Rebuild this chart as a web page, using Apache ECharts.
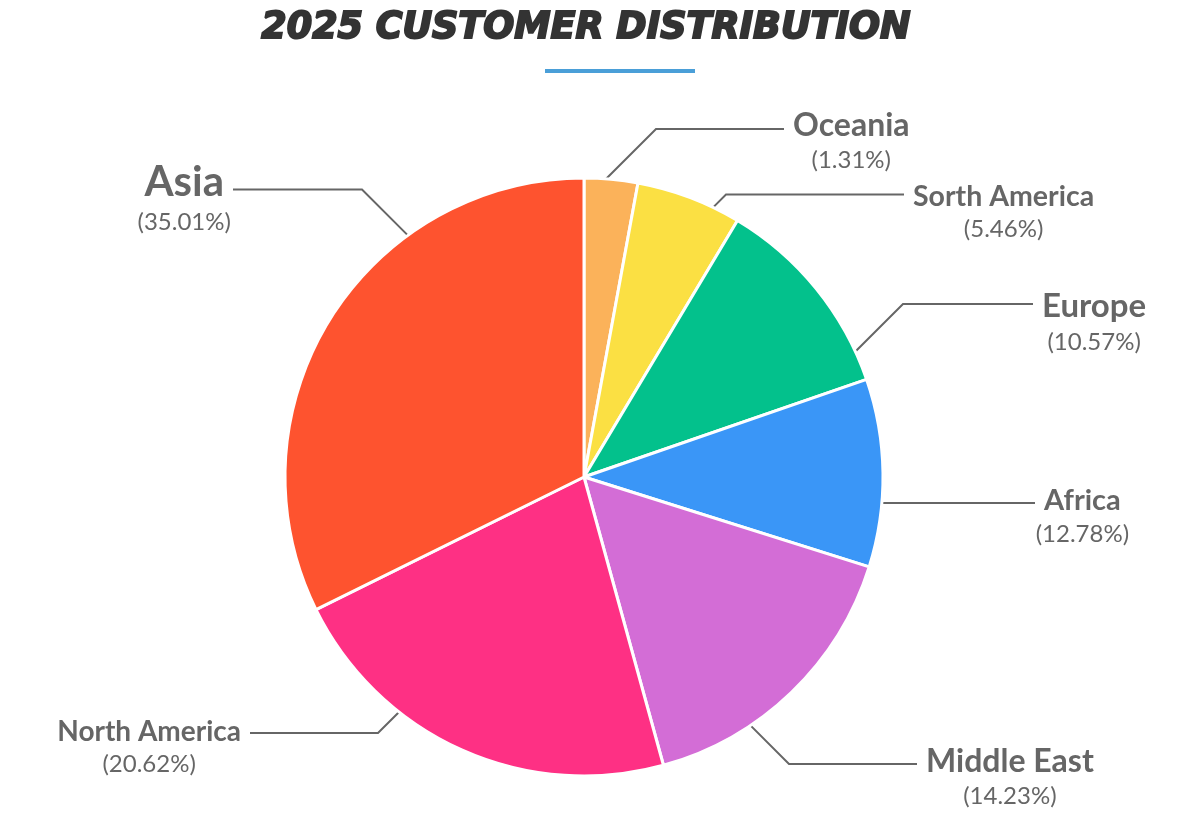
<!DOCTYPE html>
<html><head><meta charset="utf-8">
<script src="https://cdn.jsdelivr.net/npm/echarts@6/dist/echarts.min.js"></script>
<style>html,body{margin:0;padding:0;background:#fff}#c{width:1200px;height:820px}</style>
</head><body><div id="c"></div>
<script>
// ---- data ----
const categories = ['Oceania', 'Sorth America', 'Europe', 'Africa', 'Middle East', 'North America', 'Asia'];
const sliceValues = [2.89, 5.69, 11.13, 10.15, 15.86, 21.97, 32.31];
const shareLabels = ['1.31', '5.46', '10.57', '12.78', '14.23', '20.62', '35.01'];

// ---- style / layout ----
const colors = ['#FBB25A', '#FBE043', '#03C18C', '#3A96F7', '#D36DD6', '#FE3084', '#FE532F'];
const nameSizes = [32, 28.5, 33, 29, 32, 28, 42];
const lineY = [129, 194.5, 304, 503, 764, 733, 189.5];
const lineEndX = [784, 904, 1033, 1035, 917, 250, 233];
const nameMidY = [126.5, 197.5, 307.5, 502, 762.5, 732.5, 183.5];
const hLen = [128, 178, 130, 200, 128, 128, 129];
const CX = 584, CY = 477, R = 299;

const mctx = document.createElement('canvas').getContext('2d');
function textW(s, fs) { mctx.font = '700 ' + fs + 'px Lato'; return mctx.measureText(s).width; }

const rich = { p: { fontFamily: 'Lato', fontSize: 24, fontWeight: 400, color: '#666', lineHeight: 34 } };
nameSizes.forEach((fs, i) => {
  rich['n' + i] = { fontFamily: 'Lato', fontSize: fs, fontWeight: 700, color: '#666', lineHeight: Math.round(fs * 1.12) };
});

const chart = echarts.init(document.getElementById('c'), null, { renderer: 'canvas' });
chart.setOption({
  animation: false,
  backgroundColor: '#fff',
  title: {
    text: '2025 CUSTOMER DISTRIBUTION',
    left: 581, textAlign: 'center', top: 4,
    textStyle: {
      fontFamily: 'DejaVu Sans', fontWeight: 'bold', fontStyle: 'italic', fontSize: 36.5, color: '#333',
      lineHeight: 40, textBorderColor: '#333', textBorderWidth: 2
    }
  },
  graphic: [{ type: 'rect', shape: { x: 545, y: 69, width: 150, height: 4 }, style: { fill: '#4A9FD8' } }],
  series: [{
    type: 'pie',
    center: [CX, CY],
    radius: R,
    startAngle: 90,
    clockwise: true,
    avoidLabelOverlap: false,
    color: colors,
    itemStyle: { borderColor: '#fff', borderWidth: 3 },
    label: {
      show: true, position: 'outside',
      formatter: p => '{n' + p.dataIndex + '|' + p.name + '}\n{p|(' + shareLabels[p.dataIndex] + '%)}',
      rich: rich
    },
    labelLine: { show: true, lineStyle: { color: '#666', width: 2 } },
    emphasis: { disabled: true },
    labelLayout: function (p) {
      const i = p.dataIndex;
      const fs = nameSizes[i];
      const right = lineEndX[i] > CX;
      const w = textW(categories[i], fs);
      const gap = 9;
      const x = right ? lineEndX[i] + gap + w / 2 : lineEndX[i] - gap - w / 2;
      const LHn = Math.round(fs * 1.12);
      const y = nameMidY[i] - LHn / 2 - 0.03 * fs;
      const ex0 = lineEndX[i], ey = lineY[i];
      const sx = right ? -1 : 1;
      const ay = ey - CY;
      const hx = Math.sqrt(Math.max(0, R * R - ay * ay));
      const circleX = CX - sx * hx;
      const elbowX = ex0 + sx * hLen[i];
      let start, elbow;
      if (Math.abs(ay) < R && (right ? elbowX <= circleX : elbowX >= circleX)) {
        start = [circleX, ey]; elbow = [circleX, ey];
      } else {
        elbow = [elbowX, ey];
        const sy = ey < CY ? 1 : -1;
        const ax = elbowX - CX;
        const b = 2 * (sx * ax + sy * ay), c = ax * ax + ay * ay - R * R;
        const t = (-b - Math.sqrt(b * b - 8 * c)) / 4;
        start = [elbowX + sx * t, ey + sy * t];
      }
      return { x: x, y: y, align: 'center', verticalAlign: 'top', labelLinePoints: [start, elbow, [ex0, ey]] };
    },
    data: categories.map((n, i) => ({ name: n, value: sliceValues[i] }))
  }]
});
</script></body></html>
